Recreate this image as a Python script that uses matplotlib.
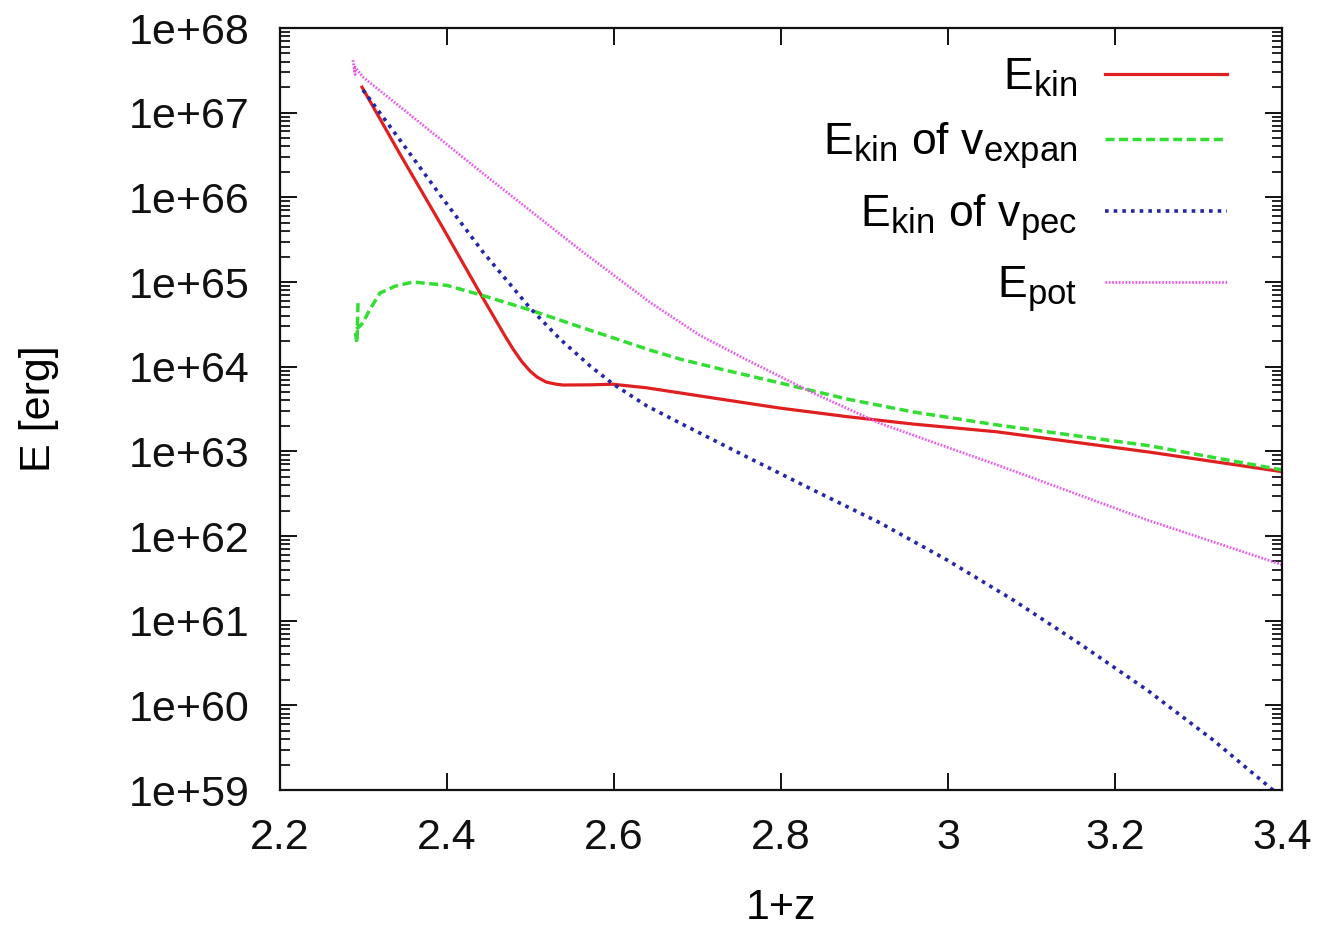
import matplotlib
matplotlib.use("Agg")
import matplotlib.pyplot as plt
import matplotlib._mathtext as _mt
from matplotlib.ticker import LogLocator, FixedLocator, NullFormatter

# gnuplot-style subscripts are larger than matplotlib's default 0.7
if hasattr(_mt, 'SHRINK_FACTOR'):
    _mt.SHRINK_FACTOR = 0.78

plt.rcParams['font.family'] = ['Liberation Sans', 'DejaVu Sans']
plt.rcParams['mathtext.fontset'] = 'custom'
plt.rcParams['mathtext.rm'] = 'Liberation Sans'
plt.rcParams['mathtext.it'] = 'Liberation Sans:italic'
plt.rcParams['mathtext.bf'] = 'Liberation Sans:bold'

# ---- data ----
x_kin = [2.2982, 2.3437, 2.3916, 2.4395, 2.4695, 2.4790, 2.4898, 2.4994, 2.5078,
         2.5186, 2.5293, 2.5389, 2.5713, 2.5988, 2.6395, 2.7186, 2.7988, 2.8790,
         2.9581, 3.0587, 3.2419, 3.4000]
e_kin = [2.0e67, 3.24e66, 5.0e65, 7.41e64, 2.30e64, 1.62e64, 1.14e64, 8.89e63,
         7.55e63, 6.59e63, 6.24e63, 6.07e63, 6.1e63, 6.2e63, 5.62e63, 4.27e63,
         3.24e63, 2.57e63, 2.10e63, 1.70e63, 9.77e62, 5.75e62]

x_exp = [2.2934, 2.2922, 2.2898, 2.2958, 2.2994, 2.3078, 2.3198, 2.3377, 2.3593,
         2.4000, 2.4395, 2.4994, 2.5593, 2.6431, 2.6790, 2.7269, 2.7988, 2.8790,
         2.9581, 3.0587, 3.2419, 3.4000]
e_exp = [5.62e64, 1.91e64, 2.69e64, 3.02e64, 3.31e64, 4.79e64, 7.41e64, 8.91e64,
         1.00e65, 9.12e64, 7.08e64, 4.68e64, 2.95e64, 1.57e64, 1.23e64, 9.40e63,
         6.42e63, 4.15e63, 2.92e63, 2.05e63, 1.16e63, 6.03e62]

x_pec = [2.2994, 2.3437, 2.3916, 2.4431, 2.4994, 2.5353, 2.5713, 2.5988, 2.6395,
         2.6790, 2.7593, 2.8383, 2.9186, 2.9988, 3.0778, 3.1581, 3.2383, 3.3174,
         3.3892, 3.4000]
e_pec = [1.85e67, 4.75e66, 1.07e66, 2.26e65, 4.93e64, 2.12e64, 1.02e64, 6.24e63,
         3.43e63, 2.16e63, 8.57e62, 3.50e62, 1.43e62, 5.21e61, 1.76e61, 5.31e60,
         1.52e60, 3.90e59, 9.98e58, 8.05e58]

x_pot = [2.2874, 2.2900, 2.2890, 2.2994, 2.3677, 2.4395, 2.5593, 2.6431, 2.7030,
         2.7593, 2.8383, 2.9186, 2.9988, 3.0587, 3.2383, 3.3940, 3.4000]
e_pot = [4.17e67, 2.82e67, 3.55e67, 2.63e67, 7.59e66, 2.04e66, 2.40e65, 5.75e64,
         2.34e64, 1.20e64, 4.90e63, 2.14e63, 1.12e63, 6.92e62, 1.55e62, 4.79e61,
         4.57e61]

labels = [r'E$_{\rm kin}$', r'E$_{\rm kin}$ of v$_{\rm expan}$',
          r'E$_{\rm kin}$ of v$_{\rm pec}$', r'E$_{\rm pot}$']
x_ticks = [2.2, 2.4, 2.6, 2.8, 3.0, 3.2, 3.4]
x_tick_labels = ['2.2', '2.4', '2.6', '2.8', '3', '3.2', '3.4']
y_ticks = [1e59, 1e60, 1e61, 1e62, 1e63, 1e64, 1e65, 1e66, 1e67, 1e68]
y_tick_labels = ['1e+59', '1e+60', '1e+61', '1e+62', '1e+63', '1e+64',
                 '1e+65', '1e+66', '1e+67', '1e+68']

# ---- figure ----
fig = plt.figure(figsize=(13.25, 9.27), dpi=100)
ax = fig.add_axes([280 / 1325, 1 - 790 / 927, (1282 - 280) / 1325, (790 - 28) / 927])

ax.plot(x_kin, e_kin, color='#e02020', lw=2.3, ls='-', label=labels[0])
ax.plot(x_exp, e_exp, color='#33dd33', lw=2.5, ls=(0, (2.6, 1.3)), label=labels[1])
ax.plot(x_pec, e_pec, color='#2626a6', lw=2.6, ls=(0, (1.0, 1.4)), label=labels[2])
ax.plot(x_pot, e_pot, color='#ee55ee', lw=2.0, ls=(0, (0.6, 0.6)), label=labels[3])

ax.set_yscale('log')
ax.set_xlim(2.2, 3.4)
ax.set_ylim(1e59, 1e68)

ax.xaxis.set_major_locator(FixedLocator(x_ticks))
ax.set_xticklabels(x_tick_labels)
ax.set_yticks(y_ticks)
ax.set_yticklabels(y_tick_labels)
ax.yaxis.set_minor_locator(LogLocator(base=10, subs=range(2, 10), numticks=100))
ax.yaxis.set_minor_formatter(NullFormatter())

fs = 31
ax.tick_params(axis='both', which='major', direction='in', length=12, width=1.4,
               top=True, right=True, labelsize=fs, colors='#111111')
ax.tick_params(axis='y', which='major', pad=22)
ax.tick_params(axis='x', which='major', pad=20)
ax.tick_params(axis='y', which='minor', direction='in', length=7, width=1.2,
               left=True, right=True)
for s in ax.spines.values():
    s.set_linewidth(1.6)
    s.set_color('#111111')

ax.set_xlabel('1+z', fontsize=fs, labelpad=22)
ax.set_ylabel('E [erg]', fontsize=fs, labelpad=50)

leg = ax.legend(loc='upper right', bbox_to_anchor=(0.963, 0.986), frameon=False,
                markerfirst=False, fontsize=32, handlelength=2.75,
                handletextpad=0.62, labelspacing=0.49, borderaxespad=0.0)

fig.savefig('out.png', dpi=100, facecolor='white')
